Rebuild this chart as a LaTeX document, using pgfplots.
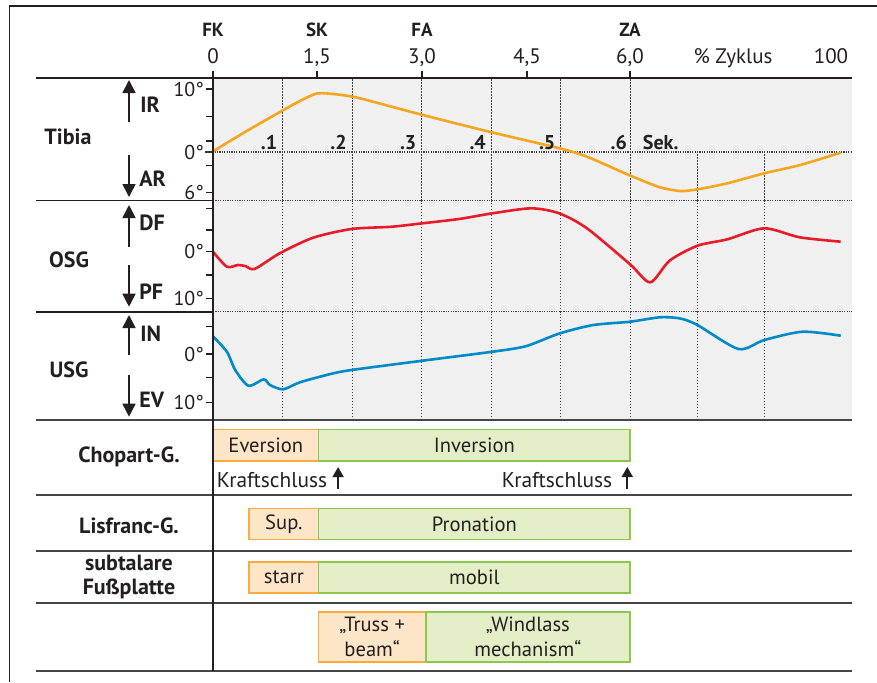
\documentclass[border=0pt]{standalone}
\usepackage{fontspec}
\setmainfont{PT Sans}
\usepackage{pgfplots}
\pgfplotsset{compat=1.18}
\usetikzlibrary{arrows.meta}
\definecolor{txt}{RGB}{35,31,32}
\definecolor{bggray}{RGB}{240,240,240}
\definecolor{orc}{RGB}{246,166,30}
\definecolor{redc}{RGB}{232,28,40}
\definecolor{bluec}{RGB}{0,138,200}
\definecolor{orf}{RGB}{253,229,199}
\definecolor{orb}{RGB}{247,172,60}
\definecolor{grf}{RGB}{228,238,198}
\definecolor{grb}{RGB}{140,198,80}
\definecolor{sep}{RGB}{70,70,70}

\pgfplotsset{
  panel/.style={
    scale only axis, width=319.5pt, xmin=0, xmax=9.193,
    anchor=north west,
    axis line style={draw=none},
    xtick=\empty,
    ytick pos=left, tick align=outside, major tick length=3.6pt,
    tick style={txt, line width=0.6pt},
    yticklabel style={font=\fontsize{10}{12}\selectfont, text=txt, inner sep=0.8pt},
    axis background/.style={fill=bggray},
    clip=false,
  },
  curve/.style={line width=1.3pt, smooth, tension=0.45, line join=round},
}
\tikzset{
  grid/.style={txt!85, line width=0.5pt, dash pattern=on 0.6pt off 0.9pt},
  hdot/.style={txt!85, line width=0.55pt, dash pattern=on 0.6pt off 0.6pt},
  lbl/.style={font=\fontsize{10.3}{12.4}\selectfont, text=txt, inner sep=0pt},
  blbl/.style={font=\bfseries\fontsize{10}{12}\selectfont, text=txt, inner sep=0pt},
  rlbl/.style={font=\bfseries\fontsize{11}{13}\selectfont, text=txt, inner sep=0pt},
  hl/.style={sep, line width=1pt},
  darr/.style={txt, line width=0.8pt, -{Triangle[width=6.5pt,length=6.5pt]}},
  sarr/.style={txt, line width=0.9pt, -{Triangle[width=5.5pt,length=5pt]}},
}

\begin{document}
\begin{tikzpicture}[x=0.5pt, y=-0.5pt]
\path[use as bounding box] (0,0) rectangle (877,682);
% outer frame
\draw[txt, line width=0.6pt] (9.5,682) -- (9.5,6) -- (877,6);

% ---------------- Tibia ----------------
\begin{axis}[panel, at={(106.5pt,-39pt)}, height=61.25pt, ymin=-7.698, ymax=11.746,
  ytick={10,5.6,1.75,0,-2.17,-6.46}, yticklabels={10°,,,0°,,6°}]
\pgfplotsinvokeforeach{1,2,3,4,5,6}{\draw[grid] (axis cs:#1,-7.698) -- (axis cs:#1,11.746);}
\pgfplotsinvokeforeach{6.97,7.93}{\draw[grid] (axis cs:#1,-7.698) -- (axis cs:#1,0);}
\draw[hdot] (axis cs:-0.115,0) -- (axis cs:9.193,0);
\draw[hdot] (axis cs:0,-7.698) -- (axis cs:9.193,-7.698);
\addplot[curve, orc] coordinates {
 (0,0.1) (0.48,3.3) (0.97,6.4) (1.25,8.1) (1.5,9.3) (1.77,9.16) (2.0,8.8)
 (2.17,8.37) (3.02,5.87) (4.02,3.1) (4.98,0.6) (5.38,-0.75) (6.0,-3.73)
 (6.43,-5.6) (6.73,-6.19) (6.97,-5.92) (7.40,-4.97) (7.93,-3.38) (8.45,-2.06) (9.03,-0.1)};
\node[blbl, anchor=base east] at (axis cs:0.93,0.32) {.1};
\node[blbl, anchor=base east] at (axis cs:1.93,0.32) {.2};
\node[blbl, anchor=base east] at (axis cs:2.93,0.32) {.3};
\node[blbl, anchor=base east] at (axis cs:3.93,0.32) {.4};
\node[blbl, anchor=base east] at (axis cs:4.93,0.32) {.5};
\node[blbl, anchor=base east] at (axis cs:5.96,0.32) {.6};
\node[blbl, anchor=base west] at (axis cs:6.18,0.32) {Sek.};
\end{axis}

% ---------------- OSG ----------------
\begin{axis}[panel, at={(106.5pt,-100.25pt)}, height=55.6pt, ymin=-12.876, ymax=10.987,
  ytick={9.31,4.66,0,-5,-10}, yticklabels={,,0°,,10°}]
\pgfplotsinvokeforeach{1,2,3,4,5,6,6.97,7.93}{\draw[grid] (axis cs:#1,-12.876) -- (axis cs:#1,10.987);}
\draw[hdot] (axis cs:0,-12.876) -- (axis cs:9.193,-12.876);
\addplot[curve, redc] coordinates {
 (0,0) (0.2,-3.22) (0.36,-2.85) (0.47,-3.1) (0.6,-3.69) (0.96,-0.34) (1.44,3.0)
 (1.99,4.87) (2.57,5.36) (3.01,6.09) (3.54,7.02) (4.02,8.24) (4.58,9.31) (4.98,8.24)
 (5.38,5.02) (6.0,-2.7) (6.29,-6.57) (6.57,-1.9) (6.97,1.29) (7.40,2.66) (7.93,5.02)
 (8.44,3.09) (9.03,2.15)};
\end{axis}

% ---------------- USG ----------------
\begin{axis}[panel, at={(106.5pt,-155.85pt)}, height=54.15pt, ymin=-13.552, ymax=8.686,
  ytick={5.6,0,-4.87,-10}, yticklabels={,0°,,10°}]
\pgfplotsinvokeforeach{1,2,3,4,5,6,6.97,7.93}{\draw[grid] (axis cs:#1,-13.552) -- (axis cs:#1,8.686);}
\addplot[curve, bluec] coordinates {
 (0,3.6) (0.2,0.47) (0.32,-3.29) (0.51,-6.51) (0.73,-5.2) (0.82,-6.37) (1.01,-7.25)
 (1.25,-5.81) (1.69,-4.11) (1.99,-3.29) (3.01,-1.38) (4.02,0.47) (4.5,1.6) (4.98,4.2)
 (5.47,5.95) (6.0,6.63) (6.43,7.54) (6.72,7.3) (6.97,5.95) (7.56,1.03) (7.93,2.87)
 (8.48,4.58) (9.03,3.76)};
\end{axis}

% ---------------- Bars ----------------
\begin{axis}[scale only axis, width=319.5pt, height=125.35pt, at={(106.5pt,-210pt)}, anchor=north west,
  xmin=0, xmax=9.193, ymin=420, ymax=670.7, y dir=reverse, hide axis, clip=false]
\addplot[draw=orb, fill=orf, line width=0.8pt] coordinates {(0,429.3) (1.52,429.3) (1.52,460.7) (0,460.7)} -- cycle;
\addplot[draw=grb, fill=grf, line width=0.8pt] coordinates {(1.52,429.3) (6.0,429.3) (6.0,460.7) (1.52,460.7)} -- cycle;
\addplot[draw=orb, fill=orf, line width=0.8pt] coordinates {(0.52,508.3) (1.52,508.3) (1.52,539.3) (0.52,539.3)} -- cycle;
\addplot[draw=grb, fill=grf, line width=0.8pt] coordinates {(1.52,508.3) (6.0,508.3) (6.0,539.3) (1.52,539.3)} -- cycle;
\addplot[draw=orb, fill=orf, line width=0.8pt] coordinates {(0.52,561.7) (1.52,561.7) (1.52,592.7) (0.52,592.7)} -- cycle;
\addplot[draw=grb, fill=grf, line width=0.8pt] coordinates {(1.52,561.7) (6.0,561.7) (6.0,592.7) (1.52,592.7)} -- cycle;
\addplot[draw=orb, fill=orf, line width=0.8pt] coordinates {(1.52,611.7) (3.06,611.7) (3.06,662) (1.52,662)} -- cycle;
\addplot[draw=grb, fill=grf, line width=0.8pt] coordinates {(3.06,611.7) (6.0,611.7) (6.0,662) (3.06,662)} -- cycle;
\node[lbl] at (axis cs:0.76,445) {Eversion};
\node[lbl] at (axis cs:3.76,445) {Inversion};
\node[lbl] at (axis cs:1.02,524) {Sup.};
\node[lbl] at (axis cs:3.76,524) {Pronation};
\node[lbl] at (axis cs:1.02,577) {starr};
\node[lbl] at (axis cs:3.76,577) {mobil};
\node[lbl, align=center] at (axis cs:2.29,637) {„Truss +\\beam“};
\node[lbl, align=center] at (axis cs:4.53,637) {„Windlass\\mechanism“};
\node[lbl, font=\fontsize{10.7}{12.4}\selectfont, anchor=west] at (axis cs:0.05,480) {Kraftschluss};
\node[lbl, font=\fontsize{10.7}{12.4}\selectfont, anchor=west] at (axis cs:4.15,480) {Kraftschluss};
\draw[sarr] (axis cs:1.8,489) -- (axis cs:1.8,467);
\draw[sarr] (axis cs:5.96,489) -- (axis cs:5.96,467);
\end{axis}

% ---------------- separators and frame lines ----------------
\draw[txt, line width=0.9pt] (36,78) -- (852,78);
\draw[txt, line width=0.9pt] (36,200.5) -- (213,200.5);
\draw[txt, line width=0.9pt] (36,311.7) -- (213,311.7);
\foreach \yy in {420,495,550.7,603.3,670.7} \draw[hl] (36,\yy) -- (852,\yy);
\draw[txt, line width=0.7pt] (213,71) -- (213,670.7);
\foreach \xp in {317,422,527,630} \draw[txt, line width=0.6pt] (\xp,71) -- (\xp,78);

% ---------------- header ----------------
\foreach \xp/\t in {213/FK, 317/SK, 422/FA, 630/ZA}
  \node[blbl, font=\bfseries\fontsize{9.5}{11}\selectfont, anchor=base] at (\xp,36.7) {\t};
\foreach \xp/\t in {213/0, 317/{1,5}, 422/{3,0}, 527/{4,5}, 630/{6,0}, 831/100}
  \node[lbl, font=\fontsize{10.5}{12}\selectfont, anchor=base] at (\xp,63.3) {\t};
\node[lbl, font=\fontsize{10.5}{12}\selectfont, anchor=base] at (733,63.3) {\% Zyklus};

% ---------------- row labels ----------------
\node[rlbl] at (68,137) {Tibia};
\node[rlbl] at (69,260) {OSG};
\node[rlbl] at (69,370) {USG};
\node[rlbl] at (129,457) {Chopart-G.};
\node[rlbl] at (129,526) {Lisfranc-G.};
\node[rlbl, align=center, font=\bfseries\fontsize{11}{11.8}\selectfont] at (129,577) {subtalare\\Fußplatte};

\draw[darr] (129,121.7) -- (129,80);
\draw[darr] (129,155) -- (129,197);
\draw[darr] (129,246.7) -- (129,205);
\draw[darr] (129,265) -- (129,306.7);
\draw[darr] (129,355) -- (129,315);
\draw[darr] (129,375) -- (129,416.7);
\node[rlbl, anchor=west] at (140,105) {IR};
\node[rlbl, anchor=west] at (139,178.3) {AR};
\node[rlbl, anchor=west] at (139,223.3) {DF};
\node[rlbl, anchor=west] at (139,291.7) {PF};
\node[rlbl, anchor=west] at (140,333.3) {IN};
\node[rlbl, anchor=west] at (139,400) {EV};
\end{tikzpicture}
\end{document}
